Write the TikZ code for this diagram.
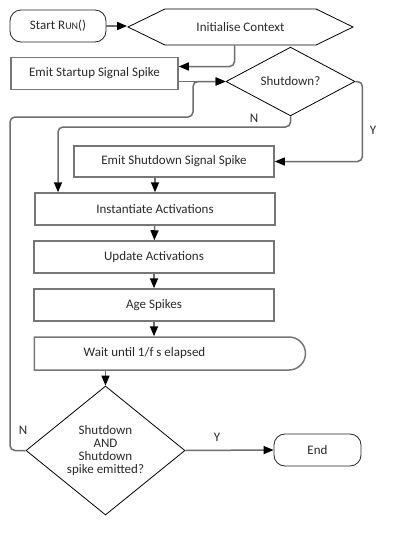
\documentclass[tikz,border=0pt]{standalone}
\usepackage{fontspec}
\setmainfont{Carlito}
\usetikzlibrary{arrows.meta,positioning,shapes.geometric,shapes.misc,shapes.symbols}
\definecolor{boxgray}{HTML}{777777}
\definecolor{linegray}{HTML}{6E6E6E}
\definecolor{txtgray}{HTML}{2A2A2A}

\begin{document}
\begin{tikzpicture}[x=1pt, y=-1pt,
  every node/.style={font=\fontsize{13}{13}\selectfont, text=txtgray},
  box/.style={draw=boxgray, line width=1.5pt, minimum height=32pt, inner sep=0pt, align=center},
  term/.style={draw=black!85, line width=0.8pt, rounded corners=11pt, minimum height=32pt, inner sep=0pt},
  choice/.style={draw=black, line width=0.8pt, diamond, inner sep=0pt, align=center},
  line/.style={draw=linegray, line width=1.5pt, rounded corners=5pt},
  >={Triangle[length=10pt, width=8pt, color=black]}]
\useasboundingbox[fill=white] (0,0) rectangle (417,555);

% terminals and steps
\node[term, minimum width=96pt] (start) at (58,26) {Start R{\fontsize{10}{10}\selectfont UN}()};
\node[draw=black, line width=0.8pt, signal, signal to=west and east, signal pointer angle=52,
      minimum width=225pt, minimum height=36pt, inner sep=0pt] (init) at (240.5,27) {Initialise Context};
\node[box, minimum width=167pt] (emitup) at (94.5,73.5) {Emit Startup Signal Spike};
\node[choice, minimum width=129pt, minimum height=63pt] (shut) at (290.5,81.5) {Shutdown?};
\node[box, minimum width=200pt, minimum height=31pt] (emitdown) at (174,161.5) {Emit Shutdown Signal Spike};
\node[box, minimum width=240pt] (inst) at (155,209) {Instantiate Activations};
\node[box, minimum width=240pt] (upd) at (154,257) {Update Activations};
\node[box, minimum width=240pt] (age) at (154,305) {Age Spikes};
\node[box, rounded rectangle, rounded rectangle left arc=none, minimum width=271pt, minimum height=33pt]
      (wait) at (169.5,353.5) {Wait until 1/f s elapsed\hspace*{50pt}};
\node[choice, minimum width=159pt, minimum height=129pt] (final) at (105.5,450.5)
      {Shutdown\\AND\\Shutdown\\spike emitted?};
\node[term, minimum width=87pt] (end) at (317.5,450) {End};

% loop points
\coordinate (loopL) at (10,117);
\coordinate (loopR) at (193,117);
\coordinate (nbend) at (58,127);

% connectors
\draw[line,->] (start.east) -- (start.east -| init.west);
\draw[line,->] ([xshift=-6pt]init.south) |- ([yshift=7pt]emitup.east);
\draw[line,->] (emitup.east |- shut.west) -- (shut.west);
\draw[line,->] (final.west) -| (loopL) -- (loopR) |- (shut.west);
\draw[line,->] (shut.south) |- (nbend) -- (nbend |- inst.north);
\draw[line,->] (shut.east) -| ([xshift=7pt]shut.east |- emitdown.east) -- (emitdown.east);
\draw[line,->] (inst.north |- emitdown.south) -- (inst.north);
\draw[line,->] (inst) -- (upd);
\draw[line,->] (upd) -- (age);
\draw[line,->] (age.south) -- (age.south |- wait.north);
\draw[line,->] (final.north |- wait.south) -- (final.north);
\draw[line,->] (final.east) -- (end.west);

% branch labels
\node (nup) at (254,118) {N};
\node (yup) at (373,130) {Y};
\node (ndown) at (23,430) {N};
\node (ydown) at (217,437) {Y};
\end{tikzpicture}
\end{document}
